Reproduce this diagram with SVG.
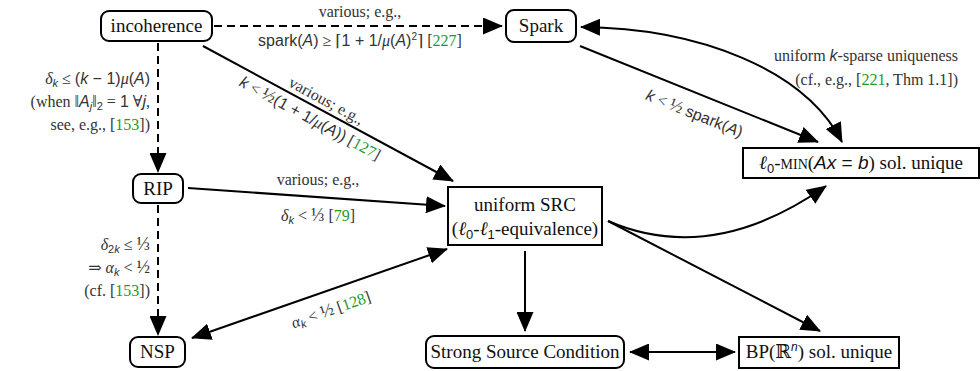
<svg xmlns="http://www.w3.org/2000/svg" width="980" height="371" viewBox="0 0 980 371" font-family="'Liberation Serif', 'Times New Roman', 'DejaVu Serif', serif">
<style>
.nb{fill:#fff;stroke:#000;stroke-width:2}
.nt{font-family:'Liberation Serif','Times New Roman','DejaVu Serif','Noto Serif',serif;font-size:19px;fill:#111;text-anchor:middle}
.lb{font-family:'Liberation Serif','Times New Roman','DejaVu Serif','Noto Serif',serif;font-size:16px;fill:#333}
.m{font-family:'Liberation Sans','DejaVu Sans',sans-serif}
.mi{font-family:'Liberation Sans','DejaVu Sans',sans-serif;font-style:italic}
.gi{font-style:italic}
.fr{font-size:18px}
.g{fill:#1f9a1f}
.e{fill:none;stroke:#000;stroke-width:2}
.d{stroke-dasharray:8 5}
</style>
<defs>
<marker id="ah" markerUnits="userSpaceOnUse" markerWidth="20" markerHeight="17" refX="19" refY="8.5" orient="auto-start-reverse" viewBox="0 0 20 17">
<path d="M0,0 L20,8.5 L0,17 z" fill="#000"/>
</marker>
</defs>

<g id="connectors">
<path class="e d" d="M214,26 L502,26" marker-end="url(#ah)"/>
<path class="e d" d="M158,43 L158,172" marker-end="url(#ah)"/>
<path class="e" d="M203,46 L453,181" marker-end="url(#ah)"/>
<path class="e" d="M580,46 L818,142" marker-end="url(#ah)"/>
<path class="e" d="M581,27 C700,28 805,70 842,142" marker-start="url(#ah)" marker-end="url(#ah)"/>
<path class="e" d="M188,188 L445,206" marker-end="url(#ah)"/>
<path class="e d" d="M158,205 L158,335" marker-end="url(#ah)"/>
<path class="e" d="M192,338 L447,249" marker-start="url(#ah)" marker-end="url(#ah)"/>
<path class="e" d="M525,251 L525,331" marker-end="url(#ah)"/>
<path class="e" d="M630,352 L735,352" marker-start="url(#ah)" marker-end="url(#ah)"/>
<path class="e" d="M608,221 L820,331" marker-end="url(#ah)"/>
<path class="e" d="M608,221 Q712,266 826,186" marker-end="url(#ah)"/>
</g>

<g id="labels" class="lb">
<text x="360" y="17" text-anchor="middle">various; e.g.,</text>
<text x="360" y="46" text-anchor="middle"><tspan class="m">spark(</tspan><tspan class="mi">A</tspan><tspan class="m">)</tspan> ≥ ⌈<tspan class="m">1 + 1/</tspan><tspan class="gi">μ</tspan><tspan class="m">(</tspan><tspan class="mi">A</tspan><tspan class="m">)</tspan><tspan dy="-6" font-size="10" class="m">2</tspan><tspan dy="6">⌉ [</tspan><tspan class="g">227</tspan>]</text>

<text x="150" y="84" text-anchor="end"><tspan class="gi">δ</tspan><tspan class="mi" font-size="11" dy="3">k</tspan><tspan dy="-3"> ≤ </tspan><tspan class="m">(</tspan><tspan class="mi">k</tspan><tspan class="m"> − 1)</tspan><tspan class="gi">μ</tspan><tspan class="m">(</tspan><tspan class="mi">A</tspan><tspan class="m">)</tspan></text>
<text x="150" y="107" text-anchor="end">(when ‖<tspan class="mi">A</tspan><tspan class="mi" font-size="11" dy="3">j</tspan><tspan dy="-3">‖</tspan><tspan class="m" font-size="11" dy="3">2</tspan><tspan dy="-3"> = </tspan><tspan class="m">1</tspan> ∀<tspan class="mi">j</tspan>,</text>
<text x="150" y="130" text-anchor="end">see, e.g., [<tspan class="g">153</tspan>])</text>

<g transform="translate(318,108) rotate(28.5)">
<text x="4" y="-5" text-anchor="middle">various; e.g.,</text>
<text x="-2" y="18" text-anchor="middle"><tspan class="mi">k</tspan> &lt; <tspan class="fr">½</tspan><tspan class="m">(1 + 1/</tspan><tspan class="gi">μ</tspan><tspan class="m">(</tspan><tspan class="mi">A</tspan><tspan class="m">))</tspan> [<tspan class="g">127</tspan>]</text>
</g>

<g transform="translate(700,100) rotate(22)">
<text x="0" y="20" text-anchor="middle"><tspan class="mi">k</tspan> &lt; <tspan class="fr">½</tspan> <tspan class="m">spark(</tspan><tspan class="mi">A</tspan><tspan class="m">)</tspan></text>
</g>

<text x="958" y="61" text-anchor="end">uniform <tspan class="mi">k</tspan>-sparse uniqueness</text>
<text x="958" y="85" text-anchor="end">(cf., e.g., [<tspan class="g">221</tspan>, Thm 1.1])</text>

<text x="318" y="185" text-anchor="middle">various; e.g.,</text>
<text x="318" y="221" text-anchor="middle"><tspan class="gi">δ</tspan><tspan class="mi" font-size="11" dy="3">k</tspan><tspan dy="-3"> &lt; </tspan><tspan class="fr">⅓</tspan> [<tspan class="g">79</tspan>]</text>

<text x="150" y="250" text-anchor="end"><tspan class="gi">δ</tspan><tspan class="m" font-size="11" dy="3">2</tspan><tspan class="mi" font-size="11">k</tspan><tspan dy="-3"> ≤ </tspan><tspan class="fr">⅓</tspan></text>
<text x="150" y="273" text-anchor="end">⇒ <tspan class="gi">α</tspan><tspan class="mi" font-size="11" dy="3">k</tspan><tspan dy="-3"> &lt; </tspan><tspan class="fr">½</tspan></text>
<text x="150" y="296" text-anchor="end">(cf. [<tspan class="g">153</tspan>])</text>

<g transform="translate(325,293) rotate(-19.3)">
<text x="0" y="23" text-anchor="middle"><tspan class="gi">α</tspan><tspan class="mi" font-size="11" dy="3">k</tspan><tspan dy="-3"> &lt; </tspan><tspan class="fr">½</tspan> [<tspan class="g">128</tspan>]</text>
</g>
</g>

<g id="incoherence">
<rect class="nb" x="101" y="11" width="111" height="30" rx="8"/>
<text class="nt" x="156.5" y="32">incoherence</text>
</g>
<g id="spark">
<rect class="nb" x="506" y="10" width="70" height="32" rx="8"/>
<text class="nt" x="541" y="32">Spark</text>
</g>
<g id="rip">
<rect class="nb" x="133" y="174" width="50" height="29" rx="8"/>
<text class="nt" x="158" y="195">RIP</text>
</g>
<g id="nsp">
<rect class="nb" x="130" y="337" width="55" height="30" rx="8"/>
<text class="nt" x="157.5" y="358">NSP</text>
</g>
<g id="src">
<rect class="nb" x="448" y="187" width="154" height="58"/>
<text class="nt" x="525" y="211">uniform SRC</text>
<text class="nt" x="525" y="235">(<tspan class="gi">ℓ</tspan><tspan class="m" font-size="13" dy="4">0</tspan><tspan dy="-4">-</tspan><tspan class="gi">ℓ</tspan><tspan class="m" font-size="13" dy="4">1</tspan><tspan dy="-4">-equivalence)</tspan></text>
</g>
<g id="l0min">
<rect class="nb" x="743" y="148" width="236" height="30"/>
<text class="nt" x="861" y="169"><tspan class="gi">ℓ</tspan><tspan class="m" font-size="13" dy="4">0</tspan><tspan dy="-4">-</tspan><tspan font-size="14">MIN</tspan>(<tspan class="mi">Ax</tspan><tspan class="m"> = </tspan><tspan class="mi">b</tspan>) sol. unique</text>
</g>
<g id="strong-source">
<rect class="nb" x="426" y="336" width="198" height="32" rx="8"/>
<text class="nt" x="525" y="358">Strong Source Condition</text>
</g>
<g id="bp">
<rect class="nb" x="739" y="337" width="160" height="31"/>
<text class="nt" x="819" y="358">BP(ℝ<tspan class="mi" font-size="12" dy="-7">n</tspan><tspan dy="7">) sol. unique</tspan></text>
</g>
</svg>
